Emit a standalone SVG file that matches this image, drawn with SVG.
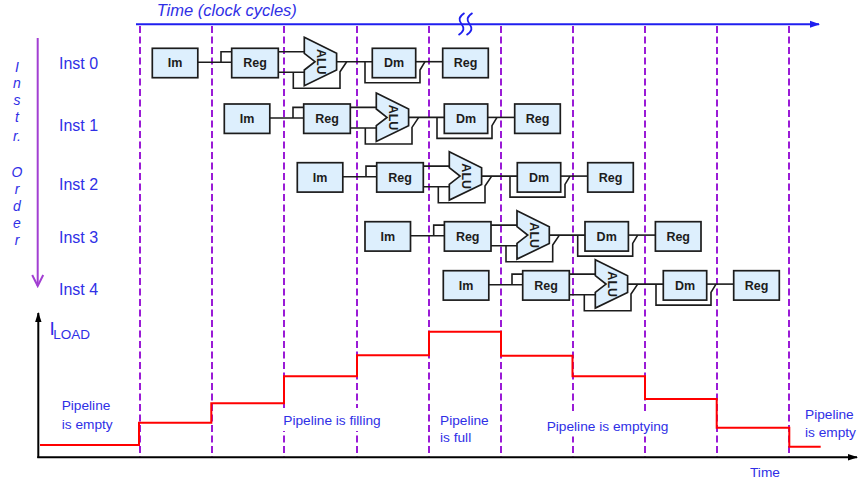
<svg xmlns="http://www.w3.org/2000/svg" xmlns:xlink="http://www.w3.org/1999/xlink" width="858" height="483" viewBox="0 0 858 483">
  <style>
    .stage { fill: #DDEFFD; stroke: #1C1C1C; stroke-width: 1.7; }
    .lbl { font-family: "Liberation Sans", Arial, sans-serif; font-weight: bold; font-size: 12.5px; fill: #1C1C1C; text-anchor: middle; }
    .wire { fill: none; stroke: #1C1C1C; stroke-width: 1.6; }
    .blue { font-family: "Liberation Sans", Arial, sans-serif; fill: #2F2FE6; }
    .inst { font-size: 16px; }
    .note { font-size: 13.7px; }
    .order { font-size: 14px; font-style: italic; text-anchor: middle; }
    .cycle { fill: none; stroke: #9A1BD6; stroke-width: 2; stroke-dasharray: 7 3.5; }
  </style>
  <defs>
    <marker id="head-blue" markerUnits="userSpaceOnUse" markerWidth="10" markerHeight="10" viewBox="0 0 10 10" refX="9" refY="5" orient="auto">
      <path d="M0,1.5 L10,5 L0,8.5 Z" fill="#1F1FEF"/>
    </marker>
    <marker id="head-black" markerUnits="userSpaceOnUse" markerWidth="10" markerHeight="10" viewBox="0 0 10 10" refX="9" refY="5" orient="auto">
      <path d="M0,1.8 L10,5 L0,8.2 Z" fill="#000"/>
    </marker>
    <marker id="head-purple" markerUnits="userSpaceOnUse" markerWidth="14" markerHeight="14" viewBox="0 0 14 14" refX="12" refY="7" orient="auto">
      <path d="M1,1.5 L12,7 L1,12.5" fill="none" stroke="#A23FD2" stroke-width="2"/>
    </marker>
    <!-- ALU outline, origin = instruction row origin -->
    <polygon id="alu-shape" points="152,-11 184.3,5 184.3,21.7 152,37.4 152,21.7 162.7,13.4 152,5"/>
    <!-- wiring between the five stages of one instruction -->
    <g id="row-wires">
      <path d="M45.5,14 H79.4 M68.7,14 V3.4 H79.4"/>
      <path d="M126,3.4 H152 M126,24 H152"/>
      <path d="M141,24 V40 H187.7 V23.4 L194.4,13.4"/>
      <path d="M184.3,13.4 H220"/>
      <path d="M212.7,13.4 V34.4 H267.7 V21.7 L272.7,13.4"/>
      <path d="M263.4,13.4 H290.4"/>
    </g>
  </defs>

  <rect width="858" height="483" fill="#FFFFFF"/>

  <!-- time axis across the top -->
  <g id="time-axis">
    <line x1="136" y1="24.3" x2="819" y2="24.3" stroke="#1F1FEF" stroke-width="2" marker-end="url(#head-blue)"/>
    <path d="M464.5,13 C458.5,17 458.5,20 461.5,24 C464.5,28 464.5,31 458.5,35 M472.5,13 C466.5,17 466.5,20 469.5,24 C472.5,28 472.5,31 466.5,35" fill="none" stroke="#1F1FEF" stroke-width="1.8"/>
    <text class="blue" x="156.7" y="16" font-size="16.5" font-style="italic">Time (clock cycles)</text>
  </g>

  <!-- clock cycle boundaries -->
  <g id="cycle-lines">
    <line class="cycle" x1="140" y1="26" x2="140" y2="457"/>
    <line class="cycle" x1="212" y1="26" x2="212" y2="457"/>
    <line class="cycle" x1="284" y1="26" x2="284" y2="457"/>
    <line class="cycle" x1="357" y1="26" x2="357" y2="457"/>
    <line class="cycle" x1="429" y1="26" x2="429" y2="457"/>
    <line class="cycle" x1="501" y1="26" x2="501" y2="457"/>
    <line class="cycle" x1="573" y1="26" x2="573" y2="457"/>
    <line class="cycle" x1="645" y1="26" x2="645" y2="457"/>
    <line class="cycle" x1="717" y1="26" x2="717" y2="457"/>
    <line class="cycle" x1="789" y1="26" x2="789" y2="457"/>
  </g>

  <!-- instruction order -->
  <g id="instr-order">
    <line x1="37.7" y1="38" x2="37.7" y2="286" stroke="#A23FD2" stroke-width="2" marker-end="url(#head-purple)"/>
    <g class="blue order">
      <text x="17" y="71.7">I</text>
      <text x="17" y="88.3">n</text>
      <text x="17" y="104.5">s</text>
      <text x="17" y="121.5">t</text>
      <text x="17" y="140.5">r.</text>
      <text x="17" y="177">O</text>
      <text x="17" y="194">r</text>
      <text x="17" y="211">d</text>
      <text x="17" y="228">e</text>
      <text x="17" y="245">r</text>
    </g>
    <g class="blue inst">
      <text x="59" y="69.3">Inst 0</text>
      <text x="59" y="130.7">Inst 1</text>
      <text x="59" y="190">Inst 2</text>
      <text x="59" y="242.7">Inst 3</text>
      <text x="59" y="295">Inst 4</text>
    </g>
  </g>

  <!-- stage-to-stage wiring -->
  <g id="connectors" class="wire">
    <use xlink:href="#row-wires" href="#row-wires" transform="translate(152.3,48.3)"/>
    <use xlink:href="#row-wires" href="#row-wires" transform="translate(224.3,104)"/>
    <use xlink:href="#row-wires" href="#row-wires" transform="translate(297.3,162.7)"/>
    <use xlink:href="#row-wires" href="#row-wires" transform="translate(365,221.7)"/>
    <use xlink:href="#row-wires" href="#row-wires" transform="translate(443.3,270.7)"/>
  </g>

  <!-- Inst 0 -->
  <g id="inst0" transform="translate(152.3,48.3)">
    <g id="inst0-im"><rect class="stage" x="0" y="0" width="45.5" height="29.4"/><text class="lbl" x="22.75" y="19.2">Im</text></g>
    <g id="inst0-reg"><rect class="stage" x="79.4" y="0" width="46.6" height="29.4"/><text class="lbl" x="102.7" y="19.2">Reg</text></g>
    <g id="inst0-alu"><use href="#alu-shape" xlink:href="#alu-shape" class="stage"/><text class="lbl" transform="translate(169.5,13.5) rotate(90)" dy="4.4">ALU</text></g>
    <g id="inst0-dm"><rect class="stage" x="220" y="0" width="43.4" height="29.4"/><text class="lbl" x="241.7" y="19.2">Dm</text></g>
    <g id="inst0-wb"><rect class="stage" x="290.4" y="0" width="45.6" height="29.4"/><text class="lbl" x="313.2" y="19.2">Reg</text></g>
  </g>

  <!-- Inst 1 -->
  <g id="inst1" transform="translate(224.3,104)">
    <g id="inst1-im"><rect class="stage" x="0" y="0" width="45.5" height="29.4"/><text class="lbl" x="22.75" y="19.2">Im</text></g>
    <g id="inst1-reg"><rect class="stage" x="79.4" y="0" width="46.6" height="29.4"/><text class="lbl" x="102.7" y="19.2">Reg</text></g>
    <g id="inst1-alu"><use href="#alu-shape" xlink:href="#alu-shape" class="stage"/><text class="lbl" transform="translate(169.5,13.5) rotate(90)" dy="4.4">ALU</text></g>
    <g id="inst1-dm"><rect class="stage" x="220" y="0" width="43.4" height="29.4"/><text class="lbl" x="241.7" y="19.2">Dm</text></g>
    <g id="inst1-wb"><rect class="stage" x="290.4" y="0" width="45.6" height="29.4"/><text class="lbl" x="313.2" y="19.2">Reg</text></g>
  </g>

  <!-- Inst 2 -->
  <g id="inst2" transform="translate(297.3,162.7)">
    <g id="inst2-im"><rect class="stage" x="0" y="0" width="45.5" height="29.4"/><text class="lbl" x="22.75" y="19.2">Im</text></g>
    <g id="inst2-reg"><rect class="stage" x="79.4" y="0" width="46.6" height="29.4"/><text class="lbl" x="102.7" y="19.2">Reg</text></g>
    <g id="inst2-alu"><use href="#alu-shape" xlink:href="#alu-shape" class="stage"/><text class="lbl" transform="translate(169.5,13.5) rotate(90)" dy="4.4">ALU</text></g>
    <g id="inst2-dm"><rect class="stage" x="220" y="0" width="43.4" height="29.4"/><text class="lbl" x="241.7" y="19.2">Dm</text></g>
    <g id="inst2-wb"><rect class="stage" x="290.4" y="0" width="45.6" height="29.4"/><text class="lbl" x="313.2" y="19.2">Reg</text></g>
  </g>

  <!-- Inst 3 -->
  <g id="inst3" transform="translate(365,221.7)">
    <g id="inst3-im"><rect class="stage" x="0" y="0" width="45.5" height="29.4"/><text class="lbl" x="22.75" y="19.2">Im</text></g>
    <g id="inst3-reg"><rect class="stage" x="79.4" y="0" width="46.6" height="29.4"/><text class="lbl" x="102.7" y="19.2">Reg</text></g>
    <g id="inst3-alu"><use href="#alu-shape" xlink:href="#alu-shape" class="stage"/><text class="lbl" transform="translate(169.5,13.5) rotate(90)" dy="4.4">ALU</text></g>
    <g id="inst3-dm"><rect class="stage" x="220" y="0" width="43.4" height="29.4"/><text class="lbl" x="241.7" y="19.2">Dm</text></g>
    <g id="inst3-wb"><rect class="stage" x="290.4" y="0" width="45.6" height="29.4"/><text class="lbl" x="313.2" y="19.2">Reg</text></g>
  </g>

  <!-- Inst 4 -->
  <g id="inst4" transform="translate(443.3,270.7)">
    <g id="inst4-im"><rect class="stage" x="0" y="0" width="45.5" height="29.4"/><text class="lbl" x="22.75" y="19.2">Im</text></g>
    <g id="inst4-reg"><rect class="stage" x="79.4" y="0" width="46.6" height="29.4"/><text class="lbl" x="102.7" y="19.2">Reg</text></g>
    <g id="inst4-alu"><use href="#alu-shape" xlink:href="#alu-shape" class="stage"/><text class="lbl" transform="translate(169.5,13.5) rotate(90)" dy="4.4">ALU</text></g>
    <g id="inst4-dm"><rect class="stage" x="220" y="0" width="43.4" height="29.4"/><text class="lbl" x="241.7" y="19.2">Dm</text></g>
    <g id="inst4-wb"><rect class="stage" x="290.4" y="0" width="45.6" height="29.4"/><text class="lbl" x="313.2" y="19.2">Reg</text></g>
  </g>

  <!-- load current versus time -->
  <g id="load-chart">
    <line x1="38.3" y1="458" x2="38.3" y2="313" stroke="#000" stroke-width="2" marker-end="url(#head-black)"/>
    <line x1="37.3" y1="457.3" x2="857" y2="457.3" stroke="#000" stroke-width="2" marker-end="url(#head-black)"/>
    <text class="blue" x="49.5" y="334.5" font-size="19">I</text>
    <text class="blue" x="53.3" y="339" font-size="13.5">LOAD</text>
    <path d="M40,445 H139 V422.7 H211.3 V403.3 H284 V376.3 H357 V355.3 H429 V331.7 H501 V355.7 H572.5 V376.3 H645 V399 H716.7 V427.7 H789.3 V446.7 H820.7" fill="none" stroke="#FF0000" stroke-width="2"/>
    <g class="blue note">
      <text x="61.7" y="410">Pipeline</text>
      <text x="61.7" y="428.5">is empty</text>
      <rect x="280" y="408" width="106" height="23" fill="#FFFFFF"/>
      <text x="283.3" y="425">Pipeline is filling</text>
      <text x="440" y="425">Pipeline</text>
      <text x="440" y="442.3">is full</text>
      <rect x="543" y="413.5" width="130" height="23" fill="#FFFFFF"/>
      <text x="546.7" y="430.7">Pipeline is emptying</text>
      <text x="805" y="419.3">Pipeline</text>
      <text x="805" y="436.7">is empty</text>
      <text x="750" y="476.7">Time</text>
    </g>
  </g>
</svg>
